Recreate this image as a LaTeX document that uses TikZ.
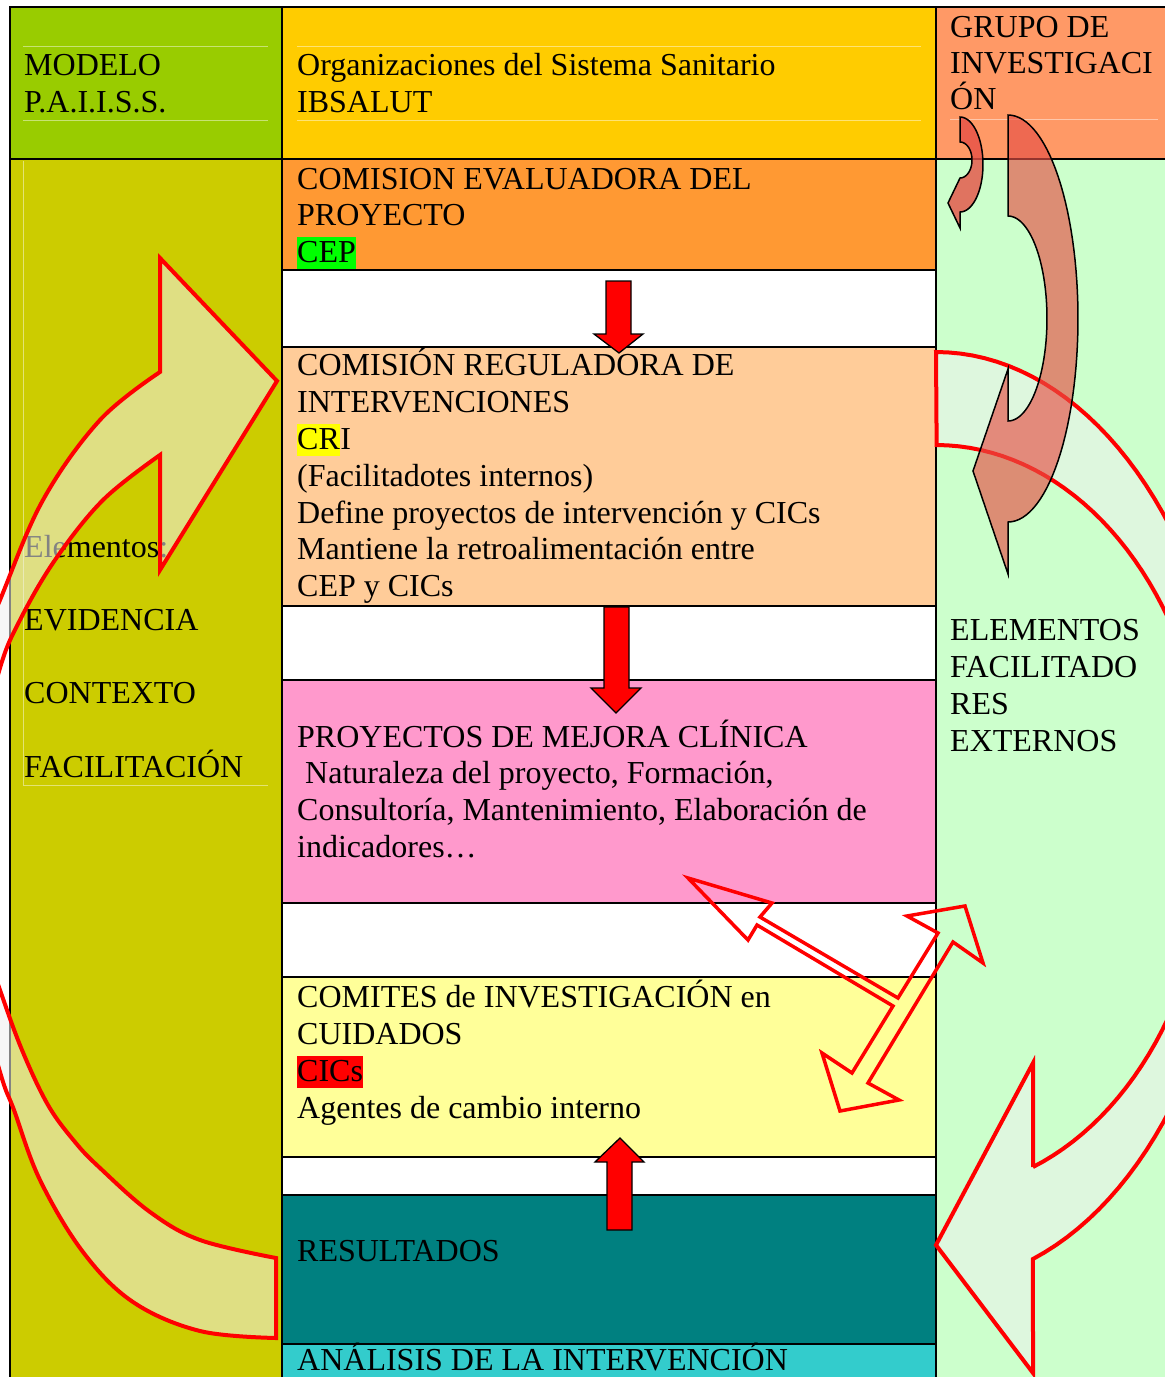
\documentclass[tikz,border=0pt]{standalone}
\usepackage{fontspec}
\setmainfont{Liberation Serif}
\newcommand\boxfont{\fontsize{32}{37}\selectfont}
\definecolor{hdrgreen}{HTML}{99CC00}
\definecolor{olivebody}{HTML}{CCCC00}
\definecolor{hdryellow}{HTML}{FFCC00}
\definecolor{ceporange}{HTML}{FF9933}
\definecolor{cripeach}{HTML}{FFCC99}
\definecolor{pinkbox}{HTML}{FF99CC}
\definecolor{yelbox}{HTML}{FFFF99}
\definecolor{tealbox}{HTML}{008080}
\definecolor{cyanbox}{HTML}{33CCCC}
\definecolor{salmonhdr}{HTML}{FF9966}
\definecolor{ltgreen}{HTML}{CCFFCC}
\definecolor{hlgreen}{HTML}{00FF00}
\definecolor{hlyellow}{HTML}{FFFF00}
\definecolor{hlred}{HTML}{FF0000}
\definecolor{darkfill}{RGB}{230,80,70}
\begin{document}
\begin{tikzpicture}[x=1pt,y=-1pt,
  box/.style={draw=black, line width=2.4pt, anchor=north west, inner sep=0pt, outer sep=0pt},
  txt/.style={anchor=base west, inner sep=0pt, font=\boxfont},
  hl/.style={txt, fill=#1, text height=25pt, text depth=7pt},
  blockarrow/.style={fill=red, draw=black, line width=1.3pt, line join=miter},
  bigred/.style={draw=red, line width=4pt, line join=miter},
  darkarrow/.style={draw=black, line width=1.5pt, fill=darkfill, fill opacity=0.65},
  faint/.style={draw=white, draw opacity=0.45, line width=0.8pt}
]
\useasboundingbox (0,0) rectangle (1165,1377);
\clip (0,0) rectangle (1165,1377);
\fill[white] (0,0) rectangle (1165,1377);

% boxes
\node[box, fill=olivebody, minimum width=272pt, minimum height=1260pt] (lbody) at (10,159) {};
\node[box, fill=ltgreen, minimum width=260pt, minimum height=1260pt] (rbody) at (936,159) {};
\node[box, fill=hdrgreen, minimum width=272pt, minimum height=152pt] (lhead) at (10,7) {};
\node[box, fill=hdryellow, minimum width=654pt, minimum height=152pt] (mhead) at (282,7) {};
\node[box, fill=salmonhdr, minimum width=260pt, minimum height=152pt] (rhead) at (936,7) {};
\node[box, fill=ceporange, minimum width=654pt, minimum height=111pt] (cep) at (282,159) {};
\node[box, fill=white, minimum width=654pt, minimum height=77pt] (gapa) at (282,270) {};
\node[box, fill=cripeach, minimum width=654pt, minimum height=259pt] (cri) at (282,347) {};
\node[box, fill=white, minimum width=654pt, minimum height=74pt] (gapb) at (282,606) {};
\node[box, fill=pinkbox, minimum width=654pt, minimum height=223pt] (pmc) at (282,680) {};
\node[box, fill=white, minimum width=654pt, minimum height=74pt] (gapc) at (282,903) {};
\node[box, fill=yelbox, minimum width=654pt, minimum height=180pt] (cic) at (282,977) {};
\node[box, fill=white, minimum width=654pt, minimum height=38pt] (gapd) at (282,1157) {};
\node[box, fill=tealbox, minimum width=654pt, minimum height=149pt] (res) at (282,1195) {};
\node[box, fill=cyanbox, minimum width=654pt, minimum height=60pt] (ana) at (282,1344) {};

% faint frame lines
\draw[faint] (23,46) -- (268,46) (23,120) -- (268,120);
\draw[faint] (297,46) -- (921,46) (297,120) -- (921,120);
\draw[faint] (950,119) -- (1158,119);
\draw[faint] (23,161) -- (23,785) -- (268,785);

% texts
\node[txt] (t1) at (24,75) {MODELO};
\node[txt] (t2) at (24,112) {P.A.I.I.S.S.};
\node[txt] (t3) at (297,75) {Organizaciones del Sistema Sanitario};
\node[txt] (t4) at (297,112) {IBSALUT};
\node[txt] (t5) at (950,37) {GRUPO DE};
\node[txt] (t6) at (950,73) {INVESTIGACI};
\node[txt] (t7) at (950,109) {ÓN};

\node[txt] (c1) at (297,189) {COMISION EVALUADORA DEL};
\node[txt] (c2) at (297,225) {PROYECTO};
\node[hl=hlgreen] (c3) at (297,262) {CEP};

\node[txt] (r1) at (297,375) {COMISIÓN REGULADORA DE};
\node[txt] (r2) at (297,412) {INTERVENCIONES};
\node[hl=hlyellow] (r3) at (297,449) {CR};
\node[txt] (r3b) at (r3.base east) {I};
\node[txt] (r4) at (297,486) {(Facilitadotes internos)};
\node[txt] (r5) at (297,523) {Define proyectos de intervención y CICs};
\node[txt] (r6) at (297,559) {Mantiene la retroalimentación entre};
\node[txt] (r7) at (297,596) {CEP y CICs};

\node[txt] (p1) at (297,747) {PROYECTOS DE MEJORA CLÍNICA};
\node[txt] (p2) at (305,783) {Naturaleza del proyecto, Formación,};
\node[txt] (p3) at (297,820) {Consultoría, Mantenimiento, Elaboración de};
\node[txt] (p4) at (297,857) {indicadores…};

\node[txt] (k1) at (297,1007) {COMITES de INVESTIGACIÓN en};
\node[txt] (k2) at (297,1044) {CUIDADOS};
\node[hl=hlred] (k3) at (297,1081) {CICs};
\node[txt] (k4) at (297,1118) {Agentes de cambio interno};

\node[txt] (s1) at (297,1261) {RESULTADOS};
\node[txt] (s2) at (297,1370) {ANÁLISIS DE LA INTERVENCIÓN};

\node[txt] (e1) at (24,557) {Elementos:};
\node[txt] (e2) at (24,630) {EVIDENCIA};
\node[txt] (e3) at (24,703) {CONTEXTO};
\node[txt] (e4) at (24,777) {FACILITACIÓN};

\node[txt] (x1) at (950,640) {ELEMENTOS};
\node[txt] (x2) at (950,677) {FACILITADO};
\node[txt] (x3) at (950,714) {RES};
\node[txt] (x4) at (950,751) {EXTERNOS};

% left big curved arrow
\filldraw[bigred, fill=white!88!gray, fill opacity=0.55]
  plot[smooth, tension=0.6] coordinates {(276,1338) (200,1331) (133,1302) (83,1252) (40,1180) (14,1110) (0,1072) (-30,960) (-50,830) (-40,700) (0,600) (43,500) (100,420) (160,372)}
  -- (160,258) -- (277,381) -- (160,570) -- (160,455)
  -- plot[smooth, tension=0.6] coordinates {(160,455) (103,500) (55,560) (20,620) (0,668) (-22,760) (-30,850) (-20,930) (0,990) (22,1050) (48,1105) (75,1142) (100,1168) (150,1212) (200,1240) (276,1258)}
  -- cycle;

% straight block arrows
\filldraw[blockarrow] (606,281) -- (631,281) -- (631,334) -- (643,334) -- (619,353) -- (594,334) -- (606,334) -- cycle;
\filldraw[blockarrow] (604,607) -- (629,607) -- (629,688) -- (641,688) -- (616,713) -- (591,688) -- (604,688) -- cycle;
\filldraw[blockarrow] (607,1230) -- (632,1230) -- (632,1162) -- (644,1162) -- (620,1138) -- (595,1162) -- (607,1162) -- cycle;

% double outline arrows
\draw[draw=red, line width=3.5pt, line join=miter]
  (688,878) -- (772,903) -- (760,917) -- (898,998) -- (938,933) -- (907,916) -- (965,906)
  -- (983,963) -- (953,942) -- (868,1083) -- (899,1100) -- (840,1111) -- (822,1053)
  -- (852,1073) -- (893,1006) -- (757,925) -- (748,940) -- cycle;

% right big curved arrow
\filldraw[bigred, fill=white!88!gray, fill opacity=0.5]
  plot[domain=-90:71.14, samples=70] ({936+300*cos(\x)},{818+466*sin(\x)})
  -- (1033,1373) -- (936,1245) -- (1033,1063) -- (1033,1167)
  -- plot[domain=0:1, samples=70] ({936+275*cos(69.35-159.35*\x)},{818+373*sin(69.35-159.35*\x)})
  -- cycle;

% black outlined arrows in right column
\filldraw[darkarrow]
  plot[domain=-90:90, samples=60] ({1008+70*cos(\x)},{318.5+203.5*sin(\x)})
  -- (1008,574) -- (973,471) -- (1008,369) -- (1008,421)
  -- plot[domain=0:1, samples=60] ({1008+39*cos(90-180*\x)},{318.5+102.5*sin(90-180*\x)})
  -- cycle;
\filldraw[darkarrow, fill opacity=0.8]
  plot[domain=-90:90, samples=40] ({960+23*cos(\x)},{164.5+47.5*sin(\x)})
  -- (960,228) -- (948,203) -- (960,178)
  -- plot[domain=0:1, samples=40] ({960+12*cos(90-180*\x)},{160+18*sin(90-180*\x)})
  -- cycle;
\end{tikzpicture}
\end{document}
